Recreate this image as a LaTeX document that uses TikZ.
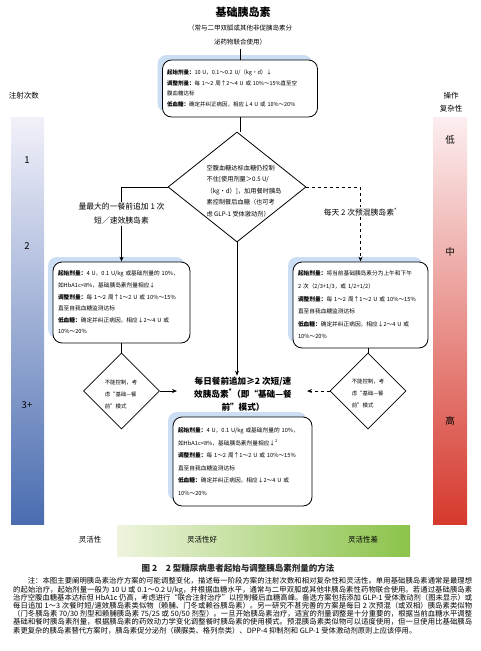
\documentclass[tikz,border=0pt]{standalone}
\usepackage{fontspec}
\setmainfont{Noto Sans CJK SC}
\usetikzlibrary{shapes.geometric,arrows.meta}
\XeTeXlinebreaklocale "zh"
\XeTeXlinebreakskip=0pt plus 0.6pt
\definecolor{shblue}{HTML}{CCDEF3}
\definecolor{bbT}{HTML}{F2F1FA}
\definecolor{bbB}{HTML}{4A6DB0}
\definecolor{brT}{HTML}{FCEEF0}
\definecolor{brB}{HTML}{D6392D}
\definecolor{grL}{HTML}{EEF4DE}
\definecolor{grR}{HTML}{8BC34A}
\newcommand\bxf{\fontsize{5.7}{11.6}\selectfont}
\tikzset{
  rbox/.style={draw, line width=0.8pt, rounded corners=9pt, fill=white, inner sep=0pt,
     align=left, font=\bxf,
     preaction={fill=shblue, draw=none, transform canvas={xshift=-5pt,yshift=5pt}}},
  dshape/.style={draw, line width=0.8pt, diamond, inner sep=0pt, fill=white},
  conn/.style={line width=0.7pt},
  tip/.style={-{Stealth[length=5pt,width=4pt]}},
  lbl/.style={fill=white, inner sep=1pt, align=center, font=\fontsize{7.8}{14}\selectfont},
  side/.style={font=\fontsize{7.5}{13}\selectfont, align=center},
  big/.style={font=\fontsize{9.5}{11}\selectfont}
}
\begin{document}
\begin{tikzpicture}[x=1pt,y=-1pt]
\useasboundingbox (0,0) rectangle (480,651);
% side bars
\shade[top color=bbT, bottom color=bbB] (11,117) rectangle (44,524);
\shade[top color=brT, bottom color=brB] (433,117) rectangle (467,524);
\shade[left color=grL, right color=grR] (117,525) rectangle (410,556);
\node[side] (lhead) at (24,96) {注射次数};
\node[side] (rhead) at (451,102) {操作\\复杂性};
\node[big] (n1) at (27,160) {1};
\node[big] (n2) at (27,246) {2};
\node[big] (n3) at (27,405) {3+};
\node[big] (c1) at (450,140) {低};
\node[big] (c2) at (450,252) {中};
\node[big] (c3) at (450,421) {高};
\node[side] (f0) at (90,540) {灵活性};
\node[side] (f1) at (202,540) {灵活性好};
\node[side] (f2) at (363,540) {灵活性差};
% title
\node[font=\bfseries\fontsize{11}{13}\selectfont] (title) at (243,12) {基础胰岛素};
\node[font=\fontsize{6.5}{14}\selectfont, align=center] (sub) at (240,35) {（常与二甲双胍或其他非促胰岛素分\\泌药物联合使用）};
% box 1
\node[rbox, minimum width=155pt, minimum height=57pt, text width=146pt, font=\fontsize{5.5}{10.5}\selectfont] (b1) at (240,88.5) {%
\textbf{起始剂量：}10 U，0.1～0.2 U/（kg·d）↓\\
\textbf{调整剂量：}每 1～2 周↑2～4 U 或 10\%～15\%直至空\\
腹血糖达标\\
\textbf{低血糖：}确定并纠正病因，相应↓4 U 或 10\%～20\%};
\draw[conn] (sub.south) -- (b1.north);
% big diamond
\node[dshape, minimum width=138pt, minimum height=110pt] (dia) at (237,187) {};
\node[align=left, font=\fontsize{6.2}{11.6}\selectfont, inner sep=0pt] (diat) at (244,191) {空腹血糖达标血糖仍控制\\不住[使用剂量＞0.5 U/\\（kg·d）]，加用餐时胰岛\\素控制餐后血糖（也可考\\虑 GLP-1 受体激动剂）};
\draw[conn] (b1.south) -- (b1.south |- dia.north);
% box 2
\node[rbox, minimum width=137pt, minimum height=81pt, text width=127pt] (b2) at (121.5,302.5) {%
\textbf{起始剂量：}4 U，0.1 U/kg 或基础剂量的 10\%，\\
如HbA1c<8\%，基础胰岛素剂量相应↓\\
\textbf{调整剂量：}每 1～2 周↑1～2 U 或 10\%～15\%\\
直至自我血糖监测达标\\
\textbf{低血糖：}确定并纠正病因，相应↓2～4 U 或\\
10\%～20\%};
% box 3
\node[rbox, minimum width=135pt, minimum height=86pt, text width=125pt, font=\fontsize{5.7}{12.6}\selectfont] (b3) at (360.5,305) {%
\textbf{起始剂量：}将当前基础胰岛素分为上午和下午\\
2 次（2/3+1/3，或 1/2+1/2）\\
\textbf{调整剂量：}每 1～2 周↑1～2 U 或 10\%～15\%\\
直至自我血糖监测达标\\
\textbf{低血糖：}确定并纠正病因，相应↓2～4 U 或\\
10\%～20\%};
% branches
\draw[conn, tip] (dia.west) -| (b2.north);
\draw[conn, tip, dashed] (dia.east) -| (b3.north);
\node[lbl] (ll) at (121.5,214) {量最大的一餐前追加 1 次\\短／速效胰岛素};
\node[lbl] (rl) at (360.5,212) {每天 2 次预混胰岛素\textsuperscript{*}};
% small diamonds
\node[dshape, minimum width=76pt, minimum height=76pt] (ld) at (121.5,391) {};
\node[align=left, font=\fontsize{5.4}{12}\selectfont, inner sep=0pt] (ldt) at (121,394) {不能控制，考\\虑“基础—餐\\前”模式};
\node[dshape, minimum width=76pt, minimum height=76pt] (rd) at (368,391) {};
\node[align=left, font=\fontsize{5.4}{12}\selectfont, inner sep=0pt] (rdt) at (368,393) {不能控制，考\\虑“基础—餐\\前”模式};
\draw[conn] (b2.south) -- (ld.north);
\draw[conn] (b3.south -| rd.north) -- (rd.north);
% central text
\node[align=center, font=\bfseries\fontsize{8.6}{13}\selectfont, inner sep=1pt] (ct) at (243,394) {每日餐前追加≥2 次短/速\\效胰岛素\textsuperscript{*}（即“基础—餐\\前”模式）};
\coordinate (la) at (177,391);
\coordinate (ra) at (307,391);
\draw[conn, tip] (ld.east) -- (la);
\draw[conn, tip, dashed] (rd.west) -- (ra);
\draw[conn, tip] (dia.south) -- (dia.south |- ct.north);
% box 4
\node[rbox, minimum width=139pt, minimum height=89pt, text width=129pt, font=\fontsize{5.7}{12.6}\selectfont] (b4) at (242.5,461.5) {%
\textbf{起始剂量：}4 U，0.1 U/kg 或基础剂量的 10\%，\\
如HbA1c<8\%，基础胰岛素剂量相应↓\textsuperscript{2}\\
\textbf{调整剂量：}每 1～2 周↑1～2 U 或 10\%～15\%\\
直至自我血糖监测达标\\
\textbf{低血糖：}确定并纠正病因，相应↓2～4 U 或\\
10\%～20\%};
% caption
\node[font=\bfseries\fontsize{8.5}{10}\selectfont, text=black!85] (cap) at (238,568) {图 2\quad 2 型糖尿病患者起始与调整胰岛素剂量的方法};
\node[anchor=north west, text width=459pt, align=justify, inner sep=0pt, font=\fontsize{7.3}{8.2}\selectfont] (note) at (13,577.5) {\hspace*{2em}注：本图主要阐明胰岛素治疗方案的可能调整变化，描述每一阶段方案的注射次数和相对复杂性和灵活性。单用基础胰岛素通常是最理想的起始治疗，起始剂量一般为 10 U 或 0.1～0.2 U/kg，并根据血糖水平，通常与二甲双胍或其他非胰岛素性药物联合使用。若通过基础胰岛素治疗空腹血糖基本达标但 HbA1c 仍高，考虑进行“联合注射治疗”以控制餐后血糖高峰。备选方案包括添加 GLP-1 受体激动剂（图未显示）或每日追加 1～3 次餐时短/速效胰岛素类似物（赖脯、门冬或赖谷胰岛素）。另一研究不甚完善的方案是每日 2 次预混（或双相）胰岛素类似物（门冬胰岛素 70/30 剂型和赖脯胰岛素 75/25 或 50/50 剂型）。一旦开始胰岛素治疗，适宜的剂量调整是十分重要的，根据当前血糖水平调整基础和餐时胰岛素剂量，根据胰岛素的药效动力学变化调整餐时胰岛素的使用模式。预混胰岛素类似物可以适度使用，但一旦使用比基础胰岛素更复杂的胰岛素替代方案时，胰岛素促分泌剂（磺脲类、格列奈类）、DPP-4 抑制剂和 GLP-1 受体激动剂原则上应该停用。};
\end{tikzpicture}
\end{document}
